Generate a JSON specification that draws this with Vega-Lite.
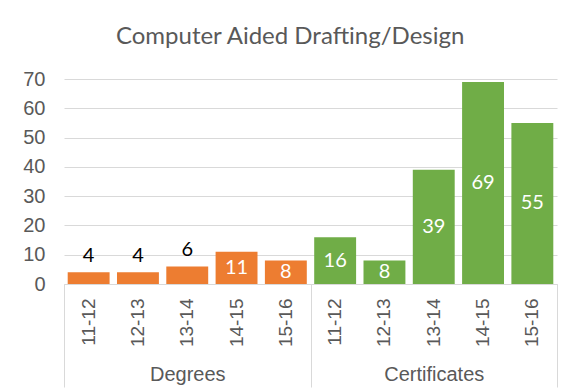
{
  "$schema": "https://vega.github.io/schema/vega-lite/v6.json",
  "width": 493,
  "height": 205,
  "autosize": {"type": "none"},
  "padding": {"left": 64, "top": 79, "right": 13, "bottom": 108},
  "title": {"text": "Computer Aided Drafting/Design", "font": "Lato", "fontSize": 24, "fontWeight": "normal", "color": "#595959", "offset": 20, "anchor": "middle", "frame": "bounds"},
  "config": {"view": {"stroke": null}, "font": "Liberation Sans"},
  "data": {"values": [
    {"group": "Degrees", "year": "11-12", "cat": "Degrees 11-12", "value": 4},
    {"group": "Degrees", "year": "12-13", "cat": "Degrees 12-13", "value": 4},
    {"group": "Degrees", "year": "13-14", "cat": "Degrees 13-14", "value": 6},
    {"group": "Degrees", "year": "14-15", "cat": "Degrees 14-15", "value": 11},
    {"group": "Degrees", "year": "15-16", "cat": "Degrees 15-16", "value": 8},
    {"group": "Certificates", "year": "11-12", "cat": "Certificates 11-12", "value": 16},
    {"group": "Certificates", "year": "12-13", "cat": "Certificates 12-13", "value": 8},
    {"group": "Certificates", "year": "13-14", "cat": "Certificates 13-14", "value": 39},
    {"group": "Certificates", "year": "14-15", "cat": "Certificates 14-15", "value": 69},
    {"group": "Certificates", "year": "15-16", "cat": "Certificates 15-16", "value": 55}
  ]},
  "layer": [
    {"mark": {"type": "bar"},
     "encoding": {
       "x": {"field": "cat", "type": "nominal", "sort": null,
         "scale": {"domain": ["Degrees 11-12", "Degrees 12-13", "Degrees 13-14", "Degrees 14-15", "Degrees 15-16", "Certificates 11-12", "Certificates 12-13", "Certificates 13-14", "Certificates 14-15", "Certificates 15-16"], "paddingInner": 0.15, "paddingOuter": 0.075},
         "axis": {"orient": "bottom", "title": null, "ticks": false, "domain": true, "domainColor": "#d9d9d9", "domainWidth": 1, "labelAngle": -90, "labelPadding": 14, "labelFontSize": 19, "labelColor": "#595959", "labelExpr": "slice(datum.label, -5)", "grid": false}
       },
       "y": {"field": "value", "type": "quantitative",
         "scale": {"domain": [0, 70], "nice": false},
         "axis": {"orient": "left", "title": null, "values": [0, 10, 20, 30, 40, 50, 60, 70], "grid": true, "gridColor": "#d9d9d9", "gridWidth": 1, "domain": false, "ticks": false, "labelPadding": 19, "labelFontSize": 20, "labelColor": "#595959"}
       },
       "color": {"field": "group", "type": "nominal", "scale": {"domain": ["Degrees", "Certificates"], "range": ["#ED7D31", "#70AD47"]}, "legend": null}
     }},
    {"transform": [{"filter": "datum.value >= 7"}],
     "mark": {"type": "text", "font": "Lato", "fontSize": 20, "color": "white", "baseline": "middle"},
     "encoding": {
       "x": {"field": "cat", "type": "nominal", "sort": null,
         "scale": {"domain": ["Degrees 11-12", "Degrees 12-13", "Degrees 13-14", "Degrees 14-15", "Degrees 15-16", "Certificates 11-12", "Certificates 12-13", "Certificates 13-14", "Certificates 14-15", "Certificates 15-16"], "paddingInner": 0.15, "paddingOuter": 0.075},
         "axis": null},
       "y": {"field": "value", "type": "quantitative", "scale": {"domain": [0, 140], "nice": false}, "axis": null},
       "text": {"field": "value", "type": "quantitative"}
     }},
    {"transform": [{"filter": "datum.value < 7"}],
     "mark": {"type": "text", "font": "Lato", "fontSize": 20, "color": "black", "baseline": "bottom", "dy": -6},
     "encoding": {
       "x": {"field": "cat", "type": "nominal", "sort": null,
         "scale": {"domain": ["Degrees 11-12", "Degrees 12-13", "Degrees 13-14", "Degrees 14-15", "Degrees 15-16", "Certificates 11-12", "Certificates 12-13", "Certificates 13-14", "Certificates 14-15", "Certificates 15-16"], "paddingInner": 0.15, "paddingOuter": 0.075},
         "axis": null},
       "y": {"field": "value", "type": "quantitative", "scale": {"domain": [0, 70], "nice": false}, "axis": null},
       "text": {"field": "value", "type": "quantitative"}
     }},
    {
      "mark": {"type": "point", "opacity": 0},
      "encoding": {
        "x": {"field": "group", "type": "nominal", "sort": null,
          "scale": {"domain": ["Degrees", "Certificates"], "paddingInner": 0, "paddingOuter": 0},
          "axis": {"orient": "bottom", "title": null, "domain": false, "ticks": true, "tickBand": "extent", "tickSize": 103, "tickColor": "#d9d9d9", "tickWidth": 1, "labelPadding": -23, "labelFontSize": 20, "labelColor": "#595959", "labelAngle": 0, "grid": false}
        },
        "y": {"field": "value", "type": "quantitative", "scale": {"domain": [0, 70], "nice": false}, "axis": null}
      }
    }
  ],
  "resolve": {"scale": {"x": "independent", "y": "independent"}, "axis": {"x": "independent", "y": "independent"}}
}
